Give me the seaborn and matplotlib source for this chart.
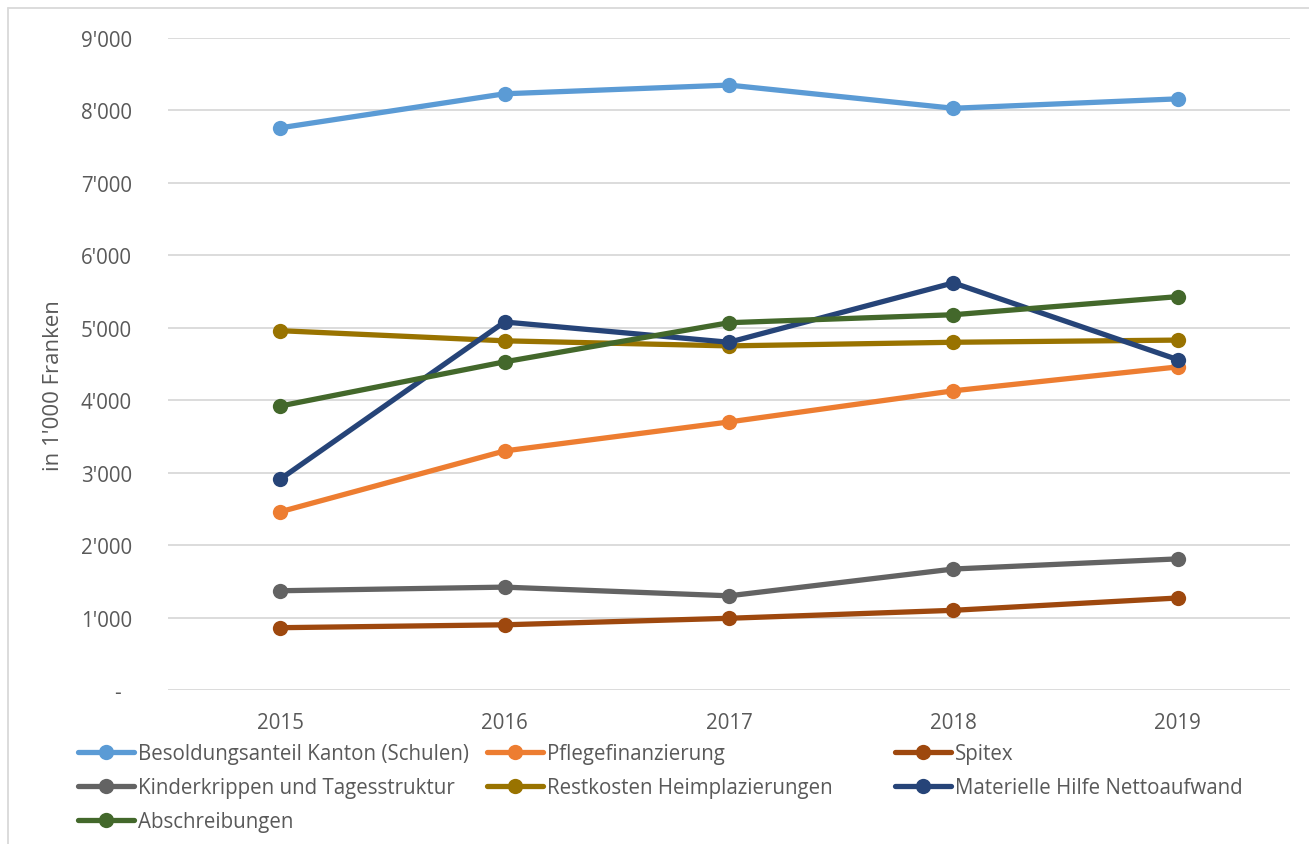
import matplotlib
matplotlib.use("Agg")
import matplotlib.pyplot as plt
from matplotlib.lines import Line2D
import pandas as pd
import seaborn as sns

years = [2015, 2016, 2017, 2018, 2019]

besoldung = [7760, 8230, 8350, 8030, 8160]
pflege = [2460, 3300, 3700, 4130, 4460]
spitex = [860, 900, 990, 1100, 1270]
kinder = [1370, 1420, 1300, 1670, 1810]
restkosten = [4960, 4820, 4750, 4800, 4830]
materielle = [2910, 5080, 4800, 5620, 4560]
abschreibungen = [3920, 4530, 5070, 5180, 5430]

series_names = [
    "Besoldungsanteil Kanton (Schulen)",
    "Pflegefinanzierung",
    "Spitex",
    "Kinderkrippen und Tagesstruktur",
    "Restkosten Heimplazierungen",
    "Materielle Hilfe Nettoaufwand",
    "Abschreibungen",
]
series_values = [besoldung, pflege, spitex, kinder, restkosten, materielle, abschreibungen]
colors = ["#5B9BD5", "#ED7D31", "#9E480E", "#636363", "#997300", "#264478", "#43682B"]

y_ticks = [0, 1000, 2000, 3000, 4000, 5000, 6000, 7000, 8000, 9000]
y_tick_labels = ["-  ", "1'000", "2'000", "3'000", "4'000", "5'000",
                 "6'000", "7'000", "8'000", "9'000"]
y_label = "in 1'000 Franken"

rows = []
for name, vals in zip(series_names, series_values):
    for yr, v in zip(years, vals):
        rows.append({"Jahr": yr, "Wert": v, "Serie": name})
df = pd.DataFrame(rows)

sns.set_theme(style="white")
plt.rcParams["font.family"] = ["Open Sans", "DejaVu Sans"]
text_color = "#595959"
grid_color = "#D9D9D9"
fs = 14.8
lw = 3.8
ms = 11

W, H = 1309, 845
fig = plt.figure(figsize=(W / 100, H / 100), dpi=100)
ax = fig.add_axes([168 / W, 1 - 691 / H, (1290 - 168) / W, (691 - 39) / H])

palette = dict(zip(series_names, colors))
sns.lineplot(data=df, x="Jahr", y="Wert", hue="Serie", palette=palette,
             hue_order=series_names, marker="o", markersize=ms,
             markeredgewidth=0, linewidth=lw, ax=ax, legend=False,
             zorder=3)

ax.set_xlim(years[0] - 0.5, years[-1] + 0.5)
ax.set_ylim(0, 9000)
ax.set_xticks(years)
ax.set_xticklabels([str(y) for y in years])
ax.set_yticks(y_ticks)
ax.set_yticklabels(y_tick_labels)
ax.tick_params(axis="both", length=0, labelsize=fs, colors=text_color)
ax.tick_params(axis="y", pad=26)
ax.tick_params(axis="x", pad=16)
ax.set_xlabel("")
ax.set_ylabel("")
for s in ax.spines.values():
    s.set_visible(False)
ax.yaxis.grid(True, color=grid_color, linewidth=1.3)
ax.set_axisbelow(True)

fig.text(54 / W, 1 - 386 / H, y_label, rotation=90, ha="center", va="center",
         fontsize=16, color=text_color)

# chart area border (top and left edges)
fig.add_artist(Line2D([7.5 / W, 7.5 / W], [0, 1 - 9 / H], transform=fig.transFigure,
                      color=grid_color, linewidth=1.3))
fig.add_artist(Line2D([7.5 / W, 1], [1 - 9 / H, 1 - 9 / H], transform=fig.transFigure,
                      color=grid_color, linewidth=1.3))

# legend: three columns placed below the plot, filled row by row
handles = {n: Line2D([], [], color=c, linewidth=lw, marker="o", markersize=ms,
                     markeredgewidth=0) for n, c in zip(series_names, colors)}
columns = [
    ([series_names[0], series_names[3], series_names[6]], 78),
    ([series_names[1], series_names[4]], 487),
    ([series_names[2], series_names[5]], 895),
]
for names, x0 in columns:
    leg = fig.legend([handles[n] for n in names], names, loc="upper left",
                     bbox_to_anchor=(x0 / W, 1 - 744 / H), frameon=False,
                     fontsize=fs, handlelength=2.7, handletextpad=0.2,
                     labelspacing=0.64, borderpad=0, borderaxespad=0)
    for t in leg.get_texts():
        t.set_color(text_color)

fig.savefig("out.png", dpi=100, facecolor="white")
